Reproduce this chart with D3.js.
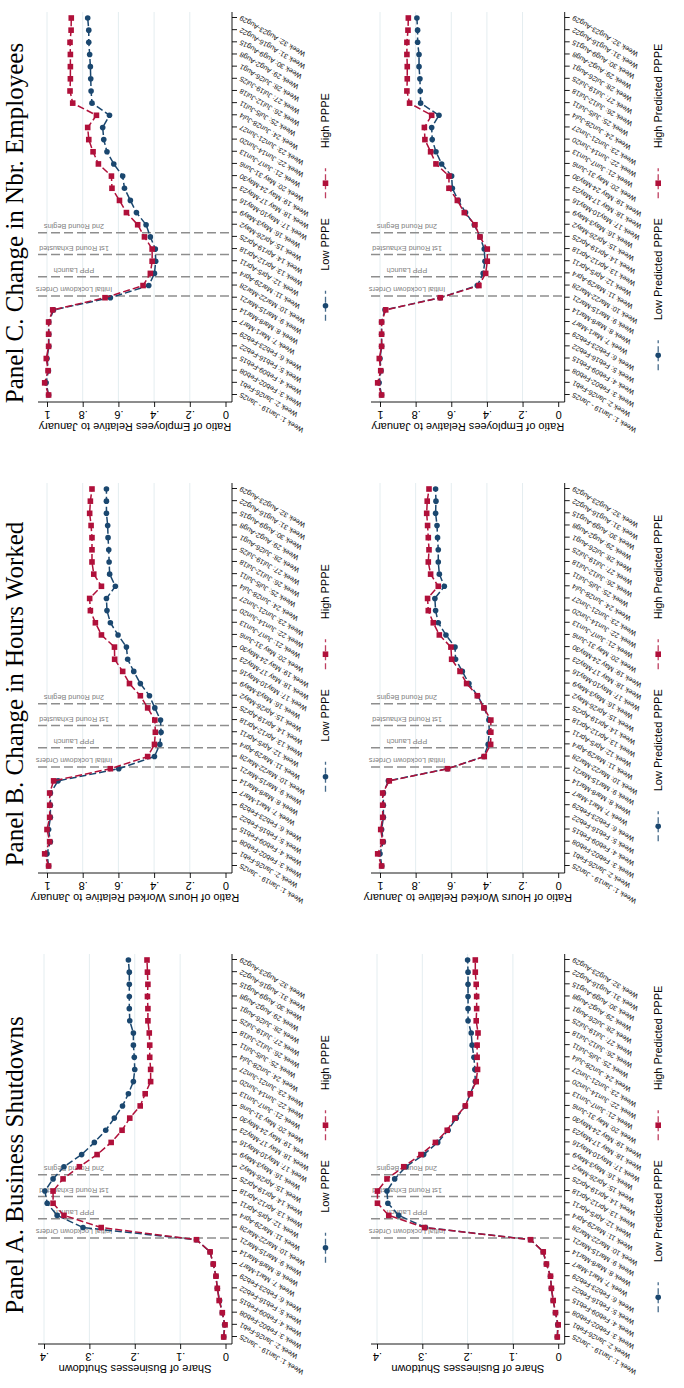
<!DOCTYPE html>
<html><head><meta charset="utf-8">
<script src="https://cdn.jsdelivr.net/npm/d3@7"></script>
<style>body{margin:0;background:#fff} svg{display:block}</style>
</head><body>
<svg id="chart" width="684" height="1388"></svg>
<script>
// ---------------- DATA ----------------
const weekLabels = [
 "Week 1: Jan19 - Jan25","Week 2: Jan26-Feb1","Week 3: Feb02-Feb08","Week 4: Feb09-Feb15",
 "Week 5: Feb16-Feb22","Week 6: Feb23-Feb29","Week 7: Mar1-Mar7","Week 8: Mar8-Mar14",
 "Week 9: Mar15-Mar21","Week 10: Mar22-Mar28","Week 11: Mar29-Apr4","Week 12: Apr5-Apr11",
 "Week 13: Apr12-Apr18","Week 14: Apr19-Apr25","Week 15: Apr26-May2","Week 16: May3-May9",
 "Week 17: May10-May16","Week 18: May 17-May23","Week 19: May 24-May30","Week 20: May 31-Jun6",
 "Week 21: Jun7-Jun13","Week 22: Jun14-Jun20","Week 23: Jun21-Jun27","Week 24: Jun28-Jul4",
 "Week 25: Jul5-Jul11","Week 26: Jul12-Jul18","Week 27: Jul19-Jul25","Week 28: Jul26-Aug1",
 "Week 29: Aug2-Aug8","Week 30: Aug9-Aug15","Week 31: Aug16-Aug22","Week 32: Aug23-Aug29"];

const eventNames = ["Initial Lockdown Orders","PPP Launch","1st Round Exhausted","2nd Round Begins"];
const eventWeeks = [9.15, 10.72, 12.55, 14.35];

const panelTitles = ["Panel A. Business Shutdowns","Panel B. Change in Hours Worked","Panel C. Change in Nbr. Employees"];
const yTitles = ["Share of Businesses Shutdown","Ratio of Hours Worked Relative to January","Ratio of Employees Relative to January"];
const legendActual = ["Low PPPE","High PPPE"];
const legendPredicted = ["Low Predicted PPPE","High Predicted PPPE"];

const shareTicks = [0,0.1,0.2,0.3,0.4];
const shareTickLabels = ["0",".1",".2",".3",".4"];
const ratioTicks = [0,0.2,0.4,0.6,0.8,1];
const ratioTickLabels = ["0",".2",".4",".6",".8","1"];

// Panel A: share of businesses shutdown
const shutLow = [0.004,0.002,0.007,0.013,0.018,0.021,0.027,0.034,0.064,0.314,0.371,0.393,0.398,0.380,0.356,0.317,0.289,0.264,0.245,0.227,0.214,0.203,0.200,0.201,0.203,0.203,0.211,0.212,0.212,0.212,0.212,0.214];
const shutHigh = [0.004,0.001,0.007,0.014,0.018,0.021,0.027,0.034,0.064,0.274,0.356,0.380,0.380,0.358,0.322,0.283,0.252,0.228,0.211,0.188,0.177,0.165,0.165,0.167,0.167,0.168,0.171,0.171,0.172,0.171,0.172,0.173];
const shutPredLow = [0.002,0.001,0.006,0.011,0.015,0.017,0.026,0.033,0.061,0.293,0.352,0.376,0.378,0.361,0.336,0.297,0.266,0.243,0.225,0.205,0.194,0.183,0.184,0.186,0.190,0.192,0.199,0.199,0.199,0.199,0.199,0.200];
const shutPredHigh = [0.002,0.000,0.006,0.011,0.015,0.017,0.026,0.033,0.061,0.295,0.374,0.399,0.399,0.378,0.341,0.303,0.271,0.245,0.228,0.205,0.194,0.181,0.178,0.179,0.179,0.177,0.181,0.180,0.180,0.181,0.183,0.183];

// Panel B: hours worked ratio
const hoursLow = [0.991,1.000,0.981,0.991,0.981,0.981,0.981,0.938,0.598,0.398,0.368,0.361,0.364,0.396,0.426,0.477,0.514,0.548,0.555,0.602,0.645,0.664,0.667,0.617,0.649,0.652,0.654,0.658,0.660,0.667,0.667,0.667];
const hoursHigh = [0.991,1.013,0.985,1.000,0.985,0.985,0.985,0.963,0.645,0.436,0.398,0.393,0.396,0.436,0.477,0.538,0.576,0.621,0.622,0.695,0.729,0.757,0.761,0.695,0.738,0.748,0.748,0.748,0.753,0.761,0.757,0.748];
const hoursPredLow = [0.990,1.000,0.981,0.991,0.981,0.981,0.981,0.953,0.621,0.417,0.393,0.387,0.389,0.415,0.452,0.501,0.538,0.576,0.579,0.630,0.673,0.688,0.692,0.639,0.667,0.673,0.673,0.677,0.680,0.688,0.686,0.688];
const hoursPredHigh = [0.991,1.013,0.985,0.996,0.985,0.985,0.985,0.948,0.621,0.415,0.379,0.378,0.378,0.417,0.454,0.514,0.551,0.598,0.602,0.667,0.701,0.729,0.733,0.673,0.716,0.729,0.725,0.729,0.733,0.738,0.735,0.725];

// Panel C: employees ratio
const empLow = [0.991,1.005,0.992,1.000,0.990,0.990,0.990,0.963,0.645,0.430,0.398,0.391,0.393,0.421,0.445,0.499,0.533,0.566,0.576,0.626,0.664,0.682,0.688,0.650,0.748,0.753,0.755,0.757,0.761,0.766,0.766,0.772];
const empHigh = [0.991,1.013,0.994,1.004,0.991,0.991,0.991,0.968,0.675,0.462,0.421,0.411,0.411,0.454,0.492,0.555,0.594,0.636,0.639,0.712,0.742,0.766,0.772,0.723,0.856,0.871,0.869,0.869,0.869,0.871,0.865,0.864];
const empPredLow = [0.991,1.005,0.994,1.000,0.991,0.991,0.991,0.972,0.662,0.454,0.421,0.411,0.415,0.439,0.471,0.520,0.561,0.594,0.598,0.654,0.686,0.707,0.710,0.669,0.772,0.774,0.776,0.781,0.781,0.789,0.789,0.793];
const empPredHigh = [0.991,1.013,0.996,1.004,0.991,0.991,0.991,0.968,0.662,0.445,0.407,0.398,0.398,0.439,0.467,0.527,0.566,0.613,0.613,0.686,0.716,0.748,0.751,0.710,0.834,0.849,0.847,0.847,0.849,0.849,0.843,0.841];

// ---------------- DRAW ----------------
const BLUE = "#1a476f", RED = "#b0103a", GRID = "#e4edf0", EVT = "#8e8e8e";
const SANS = "'Liberation Sans', Arial, sans-serif";
const SERIF = "'Liberation Serif', 'Times New Roman', serif";

const svg = d3.select("#chart");
// whole figure is a landscape page rotated 90deg counter-clockwise
const root = svg.append("g").attr("transform", "translate(0,1388) rotate(-90)");

const panels = [
  {title: panelTitles[0], ytitle: yTitles[0], ticks: shareTicks, tickLabels: shareTickLabels, topPad: 6,
   charts: [[shutLow, shutHigh], [shutPredLow, shutPredHigh]]},
  {title: panelTitles[1], ytitle: yTitles[1], ticks: ratioTicks, tickLabels: ratioTickLabels, topPad: 9,
   charts: [[hoursLow, hoursHigh], [hoursPredLow, hoursPredHigh]]},
  {title: panelTitles[2], ytitle: yTitles[2], ticks: ratioTicks, tickLabels: ratioTickLabels, topPad: 9,
   charts: [[empLow, empHigh], [empPredLow, empPredHigh]]}
];
const chartBoxes = [{top: 38, bottom: 232}, {top: 371, bottom: 564.7}];
const legends = [legendActual, legendPredicted];

panels.forEach((P, p) => {
  const ox = p * 471;
  const left = 44 + ox, right = 434 + ox;
  const x = d3.scaleLinear().domain([1, 32]).range([51 + ox, 428 + ox]);

  root.append("text").attr("x", 223 + ox).attr("y", 22.5)
    .attr("text-anchor", "middle").attr("font-family", SERIF).attr("font-size", 25)
    .attr("fill", "#000").text(P.title);

  chartBoxes.forEach((B, c) => {
    const g = root.append("g");
    const y = d3.scaleLinear().domain([0, d3.max(P.ticks)])
      .range([B.bottom - 6.5, B.top + P.topPad]);

    // gridlines
    g.append("g").selectAll("line").data(P.ticks.filter(t => t > 0)).join("line")
      .attr("x1", left).attr("x2", right).attr("y1", d => y(d)).attr("y2", d => y(d))
      .attr("stroke", GRID).attr("stroke-width", 1);

    // event lines
    eventWeeks.forEach((w, i) => {
      g.append("line").attr("x1", x(w)).attr("x2", x(w)).attr("y1", B.top).attr("y2", B.bottom)
        .attr("stroke", EVT).attr("stroke-width", 1.5).attr("stroke-dasharray", "9,4");
      g.append("text").attr("transform", `translate(${x(w) + 8.8},${B.top + 36}) rotate(-90)`)
        .attr("text-anchor", "middle").attr("font-family", SANS).attr("font-size", 7.3)
        .attr("fill", "#808080").text(eventNames[i]);
    });

    // y axis
    const ya = g.append("g").attr("transform", `translate(${left},0)`)
      .call(d3.axisLeft(y).tickValues(P.ticks).tickFormat((d, i) => P.tickLabels[i]).tickSize(5));
    ya.select(".domain").remove();
    ya.selectAll(".tick line").attr("stroke", "#000").attr("stroke-width", 0.9);
    ya.selectAll(".tick text").attr("x", null).attr("dy", null)
      .attr("transform", "translate(-8.5,0) rotate(-90)").attr("text-anchor", "middle")
      .attr("font-family", SANS).attr("font-size", 11).attr("fill", "#000");
    g.append("line").attr("x1", left).attr("x2", left).attr("y1", B.top).attr("y2", B.bottom)
      .attr("stroke", "#000").attr("stroke-width", 0.9);
    g.append("text").attr("transform", `translate(${left - 20.5},${(B.top + B.bottom) / 2}) rotate(-90)`)
      .attr("text-anchor", "middle").attr("font-family", SANS).attr("font-size", 11)
      .attr("fill", "#000").text(P.ytitle);

    // x axis
    const xa = g.append("g").attr("transform", `translate(0,${B.bottom})`)
      .call(d3.axisBottom(x).tickValues(d3.range(1, 33)).tickFormat(d => weekLabels[d - 1]).tickSize(5));
    xa.select(".domain").remove();
    xa.selectAll(".tick line").attr("stroke", "#000").attr("stroke-width", 0.9);
    xa.selectAll(".tick text").attr("y", null).attr("dy", "0.35em")
      .attr("transform", "translate(0,8) rotate(-60)").attr("text-anchor", "end")
      .attr("font-family", SANS).attr("font-size", 7.1).attr("fill", "#111");
    g.append("line").attr("x1", left).attr("x2", right).attr("y1", B.bottom).attr("y2", B.bottom)
      .attr("stroke", "#000").attr("stroke-width", 0.9);

    // series
    const [lowS, highS] = P.charts[c];
    const line = d3.line().x((d, i) => x(i + 1)).y(d => y(d));
    const sq = 5.6, rr = 2.8;
    g.append("path").datum(lowS).attr("d", line).attr("fill", "none")
      .attr("stroke", BLUE).attr("stroke-width", 1.5).attr("stroke-dasharray", "7,3");
    g.append("g").selectAll("circle").data(lowS).join("circle")
      .attr("cx", (d, i) => x(i + 1)).attr("cy", d => y(d)).attr("r", rr).attr("fill", BLUE);
    g.append("path").datum(highS).attr("d", line).attr("fill", "none")
      .attr("stroke", RED).attr("stroke-width", 1.5).attr("stroke-dasharray", "7,3");
    g.append("g").selectAll("rect").data(highS).join("rect")
      .attr("x", (d, i) => x(i + 1) - sq / 2).attr("y", d => y(d) - sq / 2)
      .attr("width", sq).attr("height", sq).attr("fill", RED);

    // legend
    const labels = legends[c];
    const ly = B.bottom + 93.5;
    const lg = g.append("g");
    const keyW = 30, gap = 20;
    const t0 = lg.append("text").attr("font-family", SANS).attr("font-size", 11).text(labels[0]);
    const t1 = lg.append("text").attr("font-family", SANS).attr("font-size", 11).text(labels[1]);
    const w0 = t0.node().getComputedTextLength(), w1 = t1.node().getComputedTextLength();
    const total = keyW + gap + w0 + gap + keyW + gap + w1;
    let cx = (left + right) / 2 - total / 2;
    const colors = [BLUE, RED];
    [t0, t1].forEach((t, k) => {
      lg.append("line").attr("x1", cx).attr("x2", cx + keyW).attr("y1", ly).attr("y2", ly)
        .attr("stroke", colors[k]).attr("stroke-width", 1.3).attr("stroke-dasharray", "6,3").attr("opacity", 0.8);
      if (k === 0) {
        lg.append("circle").attr("cx", cx + keyW / 2).attr("cy", ly).attr("r", rr).attr("fill", BLUE);
      } else {
        lg.append("rect").attr("x", cx + keyW / 2 - sq / 2).attr("y", ly - sq / 2)
          .attr("width", sq).attr("height", sq).attr("fill", RED);
      }
      cx += keyW + gap;
      t.attr("x", cx).attr("y", ly).attr("dy", "0.35em").attr("fill", "#000");
      cx += (k === 0 ? w0 : w1) + gap;
    });
  });
});
</script>
</body></html>
